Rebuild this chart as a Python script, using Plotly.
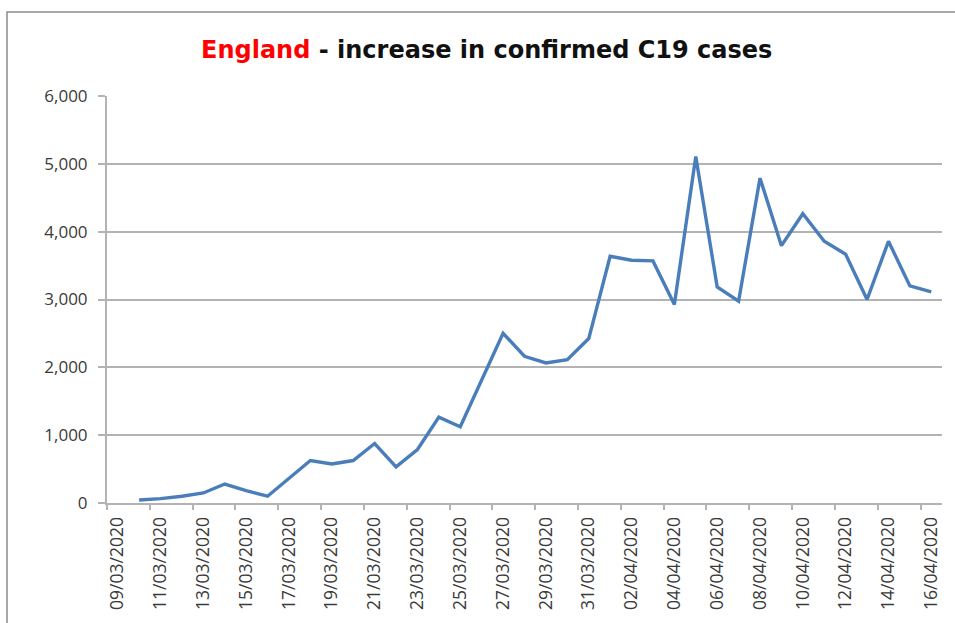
import plotly.graph_objects as go

dates = [
    "09/03/2020", "10/03/2020", "11/03/2020", "12/03/2020", "13/03/2020",
    "14/03/2020", "15/03/2020", "16/03/2020", "17/03/2020", "18/03/2020",
    "19/03/2020", "20/03/2020", "21/03/2020", "22/03/2020", "23/03/2020",
    "24/03/2020", "25/03/2020", "26/03/2020", "27/03/2020", "28/03/2020",
    "29/03/2020", "30/03/2020", "31/03/2020", "01/04/2020", "02/04/2020",
    "03/04/2020", "04/04/2020", "05/04/2020", "06/04/2020", "07/04/2020",
    "08/04/2020", "09/04/2020", "10/04/2020", "11/04/2020", "12/04/2020",
    "13/04/2020", "14/04/2020", "15/04/2020", "16/04/2020",
]

cases = [
    None, 45, 65, 100, 148,
    280, 182, 100, 360, 626,
    576, 626, 877, 532, 788,
    1266, 1125, 1813, 2502, 2163,
    2064, 2113, 2424, 3638, 3578,
    3569, 2926, 5108, 3186, 2975,
    4789, 3794, 4265, 3858, 3667,
    3000, 3858, 3201, 3113,
]

title_red = "England"
title_rest = " - increase in confirmed C19 cases"

W, H = 955, 623
L, R, T, B = 107, 13, 96, 120
pw, ph = W - L - R, H - T - B

def px_x(p):
    return (p - L) / pw

def px_y(p):
    return (H - B - p) / ph

grid_col = "#B3B3B3"
txt_col = "#3A3A3A"
font_fam = "'Open Sans', Lato, sans-serif"
title_fam = "'DejaVu Sans', 'Open Sans', sans-serif"

fig = go.Figure()
fig.add_trace(go.Scatter(
    x=dates, y=cases, mode="lines",
    line=dict(color="#4A7EBB", width=3.4),
    connectgaps=False, showlegend=False,
))

fig.update_layout(
    width=W, height=H,
    margin=dict(l=L, r=R, t=T, b=B),
    paper_bgcolor="white", plot_bgcolor="white",
    font=dict(family=font_fam, color=txt_col),
    showlegend=False,
)

fig.update_xaxes(
    type="category",
    categoryorder="array", categoryarray=dates,
    range=[-0.5, len(dates) - 0.5],
    tickmode="linear", tick0=0, dtick=2,
    tickson="boundaries",
    ticks="outside", ticklen=5, tickcolor=grid_col, tickwidth=1.5,
    tickangle=-90,
    tickfont=dict(size=17.5, family=font_fam, color=txt_col),
    ticklabelstandoff=5,
    showgrid=False,
    showline=True, linecolor=grid_col, linewidth=2,
    zeroline=False,
)

fig.update_yaxes(
    range=[0, 6000], tick0=0, dtick=1000,
    tickformat=",",
    ticks="outside", ticklen=7, tickcolor=grid_col, tickwidth=1.5,
    tickfont=dict(size=17, family=font_fam, color=txt_col),
    ticklabelstandoff=7,
    showgrid=True, gridcolor=grid_col, gridwidth=1.5,
    showline=True, linecolor=grid_col, linewidth=2,
    zeroline=False,
)

fig.add_annotation(
    xref="paper", yref="paper",
    x=px_x(486), y=px_y(50),
    xanchor="center", yanchor="middle",
    text=f"<b><span style='color:#FF0000'>{title_red}</span>{title_rest}</b>",
    showarrow=False,
    font=dict(size=24, family=title_fam, color="#111111"),
)

# outer chart border (extends beyond the picture on right/bottom)
fig.add_shape(
    type="rect", xref="paper", yref="paper",
    x0=px_x(7), x1=px_x(W + 20), y0=px_y(H + 20), y1=px_y(12),
    line=dict(color="#8C8C8C", width=1.5), fillcolor="rgba(0,0,0,0)",
    layer="below",
)

fig.write_html(
    "out.html",
    config={"displayModeBar": False},
    post_script="document.body.style.margin='0';document.body.style.padding='0';",
)
